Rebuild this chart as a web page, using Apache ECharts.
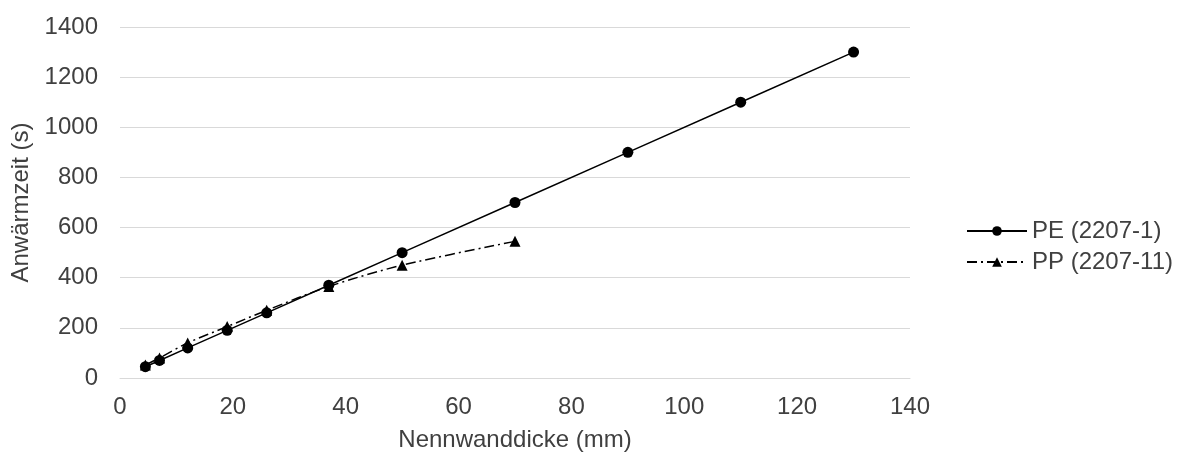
<!DOCTYPE html>
<html>
<head>
<meta charset="utf-8">
<script src="https://cdn.jsdelivr.net/npm/echarts@6/dist/echarts.min.js"></script>
<style>
html,body{margin:0;padding:0;background:#fff;}
#c{width:1189px;height:457px;}
</style>
</head>
<body>
<div id="c"></div>
<script>
const peX = [4.5, 7, 12, 19, 26, 37, 50, 70, 90, 110, 130];
const peY = [45, 70, 120, 190, 260, 370, 500, 700, 900, 1100, 1300];
const ppX = [4.5, 7, 12, 19, 26, 37, 50, 70];
const ppY = [52, 80, 140, 205, 270, 365, 450, 545];
const seriesNames = ['PE (2207-1)', 'PP (2207-11)'];
const xName = 'Nennwanddicke (mm)';
const yName = 'Anwärmzeit (s)';

const font = 'Liberation Sans, Arial, sans-serif';
const txt = '#404040';
const fs = 24;
const chart = echarts.init(document.getElementById('c'), null, {renderer: 'canvas'});
chart.setOption({
  animation: false,
  backgroundColor: '#fff',
  textStyle: {fontFamily: font},
  grid: {left: 120, right: 279, top: 27, bottom: 74.5, containLabel: false},
  legend: {
    orient: 'vertical', left: 961, top: 214, itemWidth: 60, itemHeight: 12, itemGap: 7,
    textStyle: {fontSize: fs, color: txt, fontFamily: font},
    data: seriesNames
  },
  xAxis: {
    type: 'value', min: 0, max: 140, interval: 20,
    name: xName, nameLocation: 'middle', nameGap: 50,
    nameTextStyle: {fontSize: fs, color: txt},
    axisLine: {show: true, lineStyle: {color: '#d9d9d9', width: 1}},
    axisTick: {show: false},
    axisLabel: {fontSize: fs, color: txt, margin: 17},
    splitLine: {show: false}
  },
  yAxis: {
    type: 'value', min: 0, max: 1400, interval: 200,
    name: yName, nameLocation: 'middle', nameGap: 86,
    nameTextStyle: {fontSize: fs, color: txt},
    axisLine: {show: false}, axisTick: {show: false},
    axisLabel: {fontSize: fs, color: txt, margin: 22, formatter: v => String(v)},
    splitLine: {lineStyle: {color: '#d9d9d9', width: 1}}
  },
  series: [
    {
      name: seriesNames[0], type: 'line',
      data: peX.map((x, i) => [x, peY[i]]),
      symbol: 'circle', symbolSize: 11,
      lineStyle: {color: '#000', width: 1.5, type: 'solid'},
      itemStyle: {color: '#000'}, z: 3
    },
    {
      name: seriesNames[1], type: 'line', smooth: 0.3,
      data: ppX.map((x, i) => [x, ppY[i]]),
      symbol: 'triangle', symbolSize: 11,
      lineStyle: {color: '#000', width: 1.5, type: [10, 4, 2, 4]},
      itemStyle: {color: '#000'}, z: 2
    }
  ]
});
</script>
</body>
</html>
